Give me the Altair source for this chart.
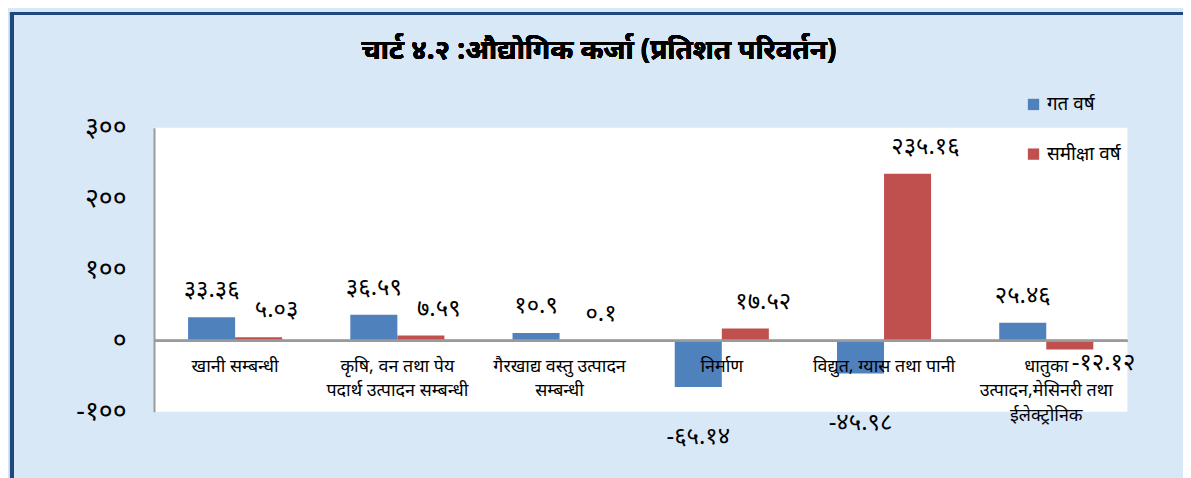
import altair as alt
import pandas as pd

categories = [
    "खानी सम्बन्धी",
    "कृषि, वन तथा पेय\nपदार्थ उत्पादन सम्बन्धी",
    "गैरखाद्य वस्तु उत्पादन\nसम्बन्धी",
    "निर्माण",
    "विद्युत, ग्यास तथा पानी",
    "धातुका\nउत्पादन,मेसिनरी तथा\nईलेक्ट्रोनिक",
]
series_names = ["गत वर्ष", "समीक्षा वर्ष"]
prev_year = [33.36, 36.59, 10.9, -65.14, -45.98, 25.46]
review_year = [5.03, 7.59, 0.1, 17.52, 235.16, -12.12]
y_ticks = [-100, 0, 100, 200, 300]
title_text = "चार्ट ४.२ :औद्योगिक कर्जा (प्रतिशत परिवर्तन)"

DEV = str.maketrans("0123456789", "०१२३४५६७८९")


def dev(v):
    return f"{v}".translate(DEV)


rows = []
for i, c in enumerate(categories):
    for s, vals in zip(series_names, [prev_year, review_year]):
        v = vals[i]
        rows.append({"category": c, "series": s, "value": v, "label": dev(v),
                     "sign": "pos" if v >= 0 else "neg"})
df = pd.DataFrame(rows)
cat_df = pd.DataFrame({"category": categories, "zero": [0] * len(categories)})

FONT = "Noto Sans"
colors = ["#4F81BD", "#C0504D"]

label_expr = " : ".join(
    [f"datum.value == {t} ? '{dev(t)}'" for t in y_ticks]
) + " : datum.label"

x_enc = alt.X("category:N", sort=categories,
              scale=alt.Scale(paddingInner=0.42, paddingOuter=0.21), axis=None)
xo_enc = alt.XOffset("series:N", sort=series_names)
y_scale = alt.Scale(domain=[-100, 300], nice=False, zero=True)

base = alt.Chart(df)

bars = base.mark_bar().encode(
    x=x_enc,
    xOffset=xo_enc,
    y=alt.Y("value:Q", scale=y_scale,
            axis=alt.Axis(values=y_ticks, labelExpr=label_expr, grid=False, ticks=False,
                          domainColor="#9a9a9a", domainWidth=2, labelFontSize=27,
                          labelFont=FONT, labelColor="#000000", labelPadding=28, title=None)),
    color=alt.Color("series:N", sort=series_names,
                    scale=alt.Scale(domain=series_names, range=colors),
                    legend=alt.Legend(title=None, orient="none", legendX=876, legendY=-33,
                                      symbolType="square", symbolSize=130,
                                      symbolStrokeWidth=0, labelFontSize=19, labelFont=FONT,
                                      labelColor="#000000", rowPadding=30, padding=0,
                                      labelOffset=4)),
)

zero_rule = alt.Chart(cat_df).mark_rule(color="#9a9a9a", strokeWidth=2).encode(
    y=alt.Y("zero:Q", scale=y_scale), x=alt.value(0), x2=alt.value(980)
)


def value_labels(series, sign, dx, dy):
    return base.transform_filter(
        (alt.datum.series == series) & (alt.datum.sign == sign)
    ).mark_text(
        fontSize=24, font=FONT, color="#000000", baseline="middle", dx=dx, dy=dy
    ).encode(
        x=x_enc, xOffset=xo_enc, y=alt.Y("value:Q", scale=y_scale), text="label:N"
    )


lbl_layers = [
    value_labels(series_names[0], "pos", 0, -27),
    value_labels(series_names[1], "pos", 18, -27),
    value_labels(series_names[0], "neg", 0, 50),
    value_labels(series_names[1], "neg", 34, 14),
]

cat_labels = alt.Chart(cat_df).mark_text(
    fontSize=18, font=FONT, color="#000000", baseline="middle", dy=26,
    lineBreak="\n", lineHeight=25
).encode(
    x=alt.X("category:N", sort=categories), y=alt.Y("zero:Q", scale=y_scale),
    text="category:N"
)

title = alt.Chart(cat_df).mark_text(
    fontSize=28, font=FONT, fontWeight="bold", color="#000000", baseline="middle"
).encode(x=alt.value(448), y=alt.value(-77), text=alt.value(title_text))

border_left = alt.Chart(cat_df).mark_rule(color="#1F497D", strokeWidth=4).encode(
    x=alt.value(-143), y=alt.value(-116), y2=alt.value(360)
)
border_top = alt.Chart(cat_df).mark_rule(color="#1F497D", strokeWidth=3).encode(
    x=alt.value(-145), x2=alt.value(1040), y=alt.value(-115)
)

chart = alt.layer(
    bars, zero_rule, *lbl_layers, cat_labels, title, border_left, border_top
).properties(
    width=980, height=286,
    padding={"left": 147, "top": 119, "right": 56, "bottom": 65},
    autosize=alt.AutoSizeParams(type="none"),
).configure(background="#D9E8F6").configure_view(fill="#FFFFFF", stroke=None)

chart.save("out.html", embed_options={"renderer": "svg", "actions": False})
